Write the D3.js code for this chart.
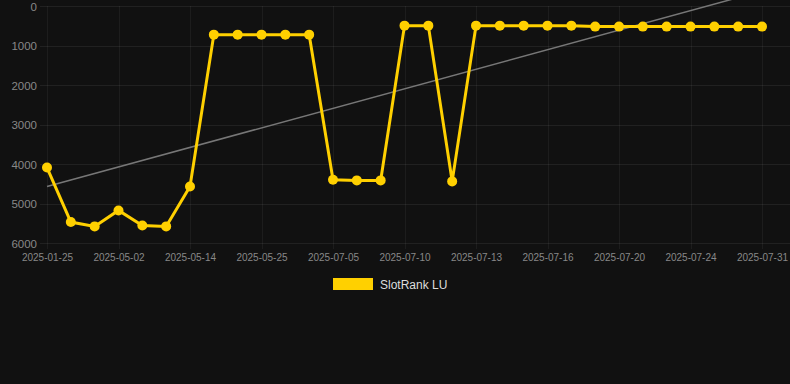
<!DOCTYPE html>
<html><head><meta charset="utf-8">
<script src="https://cdn.jsdelivr.net/npm/d3@7"></script>
<style>
html,body{margin:0;padding:0;background:#111111;}
svg{display:block;}
text{font-family:"Liberation Sans",Arial,sans-serif;}
</style></head>
<body>
<svg id="c" width="790" height="384"></svg>
<script>
const categories = ["2025-01-25","2025-04-20","2025-04-26","2025-05-02","2025-05-06","2025-05-10","2025-05-14","2025-05-17","2025-05-20","2025-05-25","2025-06-10","2025-06-25","2025-07-05","2025-07-06","2025-07-07","2025-07-10","2025-07-11","2025-07-12","2025-07-13","2025-07-14","2025-07-15","2025-07-16","2025-07-17","2025-07-18","2025-07-20","2025-07-21","2025-07-22","2025-07-24","2025-07-26","2025-07-28","2025-07-31"];
const rankValues = [4090,5470,5580,5175,5555,5580,4570,725,725,725,725,725,4400,4415,4415,497,497,4440,497,497,497,497,497,522,522,522,522,522,522,522,522];
const yTicks = [0,1000,2000,3000,4000,5000,6000];
const seriesName = "SlotRank LU";

const svg = d3.select("#c");
const plotLeft = 47, plotRight = 762, gridRight = 790, plotTop = 6, plotBottom = 243;

const x = d3.scalePoint().domain(categories).range([plotLeft, plotRight]);
const y = d3.scaleLinear().domain([0, 6000]).range([plotTop, plotBottom]);

// grid
const tickCats = categories.filter((d,i)=> i % 3 === 0);
svg.append("g").selectAll("line").data(yTicks).join("line")
  .attr("x1", 40).attr("x2", gridRight)
  .attr("y1", d=>Math.round(y(d))+0.5).attr("y2", d=>Math.round(y(d))+0.5)
  .attr("stroke", "rgba(255,255,255,0.07)").attr("stroke-width",1);
svg.append("g").selectAll("line").data(tickCats).join("line")
  .attr("x1", d=>Math.round(x(d))+0.5).attr("x2", d=>Math.round(x(d))+0.5)
  .attr("y1", plotTop).attr("y2", plotBottom+6)
  .attr("stroke", "rgba(255,255,255,0.05)").attr("stroke-width",1);

// y axis
const yAxis = d3.axisLeft(y).tickValues(yTicks).tickSize(0).tickPadding(0).tickFormat(d=>String(d));
const ya = svg.append("g").attr("transform", "translate(37,0)").call(yAxis);
ya.select(".domain").remove();
ya.selectAll("text").attr("fill","#888").attr("font-size","11.5px").attr("dy","0.35em");

// x axis
const xAxis = d3.axisBottom(x).tickValues(tickCats).tickSize(0).tickPadding(0);
const xa = svg.append("g").attr("transform", `translate(0,${plotBottom+11})`).call(xAxis);
xa.select(".domain").remove();
xa.selectAll("text").attr("fill","#888").attr("font-size","10px").attr("dy","0.71em");

// trend line (least squares)
const n = rankValues.length;
const mx = (n-1)/2, my = d3.mean(rankValues);
let sxy=0, sxx=0;
rankValues.forEach((v,i)=>{sxy+=(i-mx)*(v-my); sxx+=(i-mx)*(i-mx);});
const slope = sxy/sxx, intercept = my - slope*mx;
const trend = [0, n-1].map(i=>({c:categories[i], v: intercept + slope*i}));
svg.append("path").datum(trend)
  .attr("d", d3.line().x(d=>x(d.c)).y(d=>y(d.v)))
  .attr("fill","none").attr("stroke","#777").attr("stroke-width",1.5);

// series line
const data = categories.map((c,i)=>({c, v: rankValues[i]}));
svg.append("path").datum(data)
  .attr("d", d3.line().x(d=>x(d.c)).y(d=>y(d.v)))
  .attr("fill","none").attr("stroke","#FFD000").attr("stroke-width",3)
  .attr("stroke-linejoin","miter");
svg.append("g").selectAll("circle").data(data).join("circle")
  .attr("cx", d=>x(d.c)).attr("cy", d=>y(d.v)).attr("r", 5)
  .attr("fill","#FFD000");

// legend
svg.append("rect").attr("x",333).attr("y",278).attr("width",40).attr("height",12)
  .attr("fill","#FFD000");
svg.append("text").attr("x",380).attr("y",288.5).attr("fill","#ddd")
  .attr("font-size","12px").text(seriesName);
</script>
</body></html>
